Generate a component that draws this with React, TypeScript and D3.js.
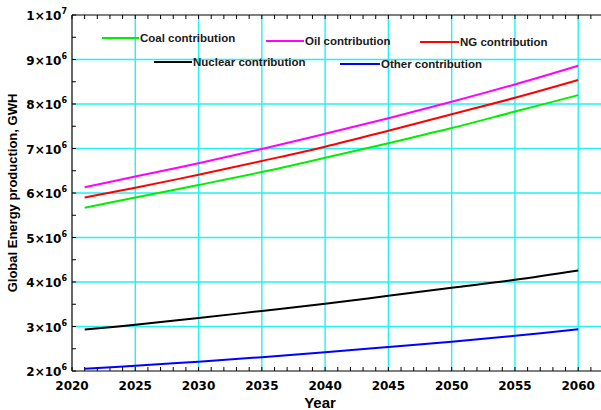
import React from 'react'
import * as d3 from 'd3'

// years (curves start at 2021)
const years = [2021, 2025, 2030, 2035, 2040, 2045, 2050, 2055, 2060]

const coal = [5.67e6, 5.9e6, 6.18e6, 6.47e6, 6.79e6, 7.12e6, 7.46e6, 7.83e6, 8.2e6]
const oil = [6.13e6, 6.37e6, 6.67e6, 6.99e6, 7.33e6, 7.68e6, 8.05e6, 8.44e6, 8.86e6]
const ng = [5.9e6, 6.12e6, 6.41e6, 6.72e6, 7.04e6, 7.4e6, 7.77e6, 8.14e6, 8.54e6]
const nuclear = [2.93e6, 3.04e6, 3.19e6, 3.35e6, 3.51e6, 3.69e6, 3.87e6, 4.05e6, 4.26e6]
const other = [2.05e6, 2.12e6, 2.21e6, 2.31e6, 2.42e6, 2.54e6, 2.66e6, 2.79e6, 2.94e6]

const xTicks = [2020, 2025, 2030, 2035, 2040, 2045, 2050, 2055, 2060]
const yTicks = [2e6, 3e6, 4e6, 5e6, 6e6, 7e6, 8e6, 9e6, 1e7]

const series = [
  { name: 'Coal contribution', values: coal, color: '#00ee00' },
  { name: 'Oil contribution', values: oil, color: '#ff00ff' },
  { name: 'NG contribution', values: ng, color: '#ff0000' },
  { name: 'Nuclear contribution', values: nuclear, color: '#000000' },
  { name: 'Other contribution', values: other, color: '#0000ff' }
]

// legend placement (line start x, line end x, y)
const legendPos = [
  [102, 139, 38],
  [266, 304, 41],
  [420, 459, 42],
  [154, 192, 62],
  [340, 380, 64]
]

const W = 601
const H = 410
const left = 72
const top = 15
const bottom = 371

const x = d3.scaleLinear().domain([2020, 2061.8]).range([left, W])
const y = d3.scaleLinear().domain([2e6, 1e7]).range([bottom, top])

const line = d3
  .line<number>()
  .x((d, i) => x(years[i]))
  .y(d => y(d))
  .curve(d3.curveCatmullRom.alpha(0.5))

const grid = '#22f2f2'
const font = 'Liberation Sans, Arial, sans-serif'
const tickFont = 'DejaVu Sans, sans-serif'

export default function App() {
  const minorX = d3.range(2020, 2062, 1)
  const minorY = d3.range(2e6, 1e7 + 1, 5e5)
  return (
    <svg
      width={W}
      height={H}
      style={{ position: 'absolute', left: 0, top: 0, background: '#fff' }}
      fontFamily={font}
    >
      {/* grid */}
      {xTicks.slice(1).map(t => (
        <line key={'gx' + t} x1={x(t)} x2={x(t)} y1={top} y2={bottom} stroke={grid} strokeWidth={1.4} />
      ))}
      {yTicks.slice(1, -1).map(t => (
        <line key={'gy' + t} x1={left} x2={W} y1={y(t)} y2={y(t)} stroke={grid} strokeWidth={1.4} />
      ))}

      {/* frame */}
      <line x1={left} x2={W} y1={top} y2={top} stroke="#000" strokeWidth={1.2} />
      <line x1={left} x2={W} y1={bottom} y2={bottom} stroke="#000" strokeWidth={1.2} />
      <line x1={left} x2={left} y1={top} y2={bottom} stroke="#000" strokeWidth={1.2} />
      {minorX.map(t => (
        <g key={'tx' + t}>
          <line x1={x(t)} x2={x(t)} y1={bottom} y2={bottom - 4} stroke="#000" />
          <line x1={x(t)} x2={x(t)} y1={top} y2={top + 4} stroke="#000" />
        </g>
      ))}
      {minorY.map(t => (
        <line key={'ty' + t} x1={left} x2={left + 4} y1={y(t)} y2={y(t)} stroke="#000" />
      ))}

      {/* tick labels */}
      {xTicks.map(t => (
        <text key={'lx' + t} x={x(t)} y={390} textAnchor="middle" fontSize={12} fontWeight="bold" fontFamily={tickFont}>
          {t}
        </text>
      ))}
      {yTicks.map(t => {
        const e = Math.floor(Math.log10(t))
        const m = Math.round(t / Math.pow(10, e))
        return (
          <text key={'ly' + t} x={67} y={y(t) + 5} textAnchor="end" fontSize={12} fontWeight="bold" fontFamily={tickFont}>
            {m + '\u00d710'}
            <tspan fontSize={8} dy={-6}>{e}</tspan>
          </text>
        )
      })}

      {/* axis titles */}
      <text x={320} y={408} textAnchor="middle" fontSize={15} fontWeight="bold">
        Year
      </text>
      <text
        transform={`translate(17,${(top + bottom) / 2}) rotate(-90)`}
        textAnchor="middle"
        fontSize={13}
        fontWeight="bold"
      >
        Global Energy production, GWH
      </text>

      {/* series */}
      {series.map(s => (
        <path key={s.name} d={line(s.values) || ''} fill="none" stroke={s.color} strokeWidth={2} />
      ))}

      {/* legend */}
      {series.map((s, i) => {
        const [x1, x2, ly] = legendPos[i]
        return (
          <g key={'lg' + s.name}>
            <line x1={x1} x2={x2} y1={ly} y2={ly} stroke={s.color} strokeWidth={2} />
            <text x={x2 + 1} y={ly + 4} fontSize={11.5} fontWeight="bold" fill="#1a1a1a">
              {s.name}
            </text>
          </g>
        )
      })}
    </svg>
  )
}
